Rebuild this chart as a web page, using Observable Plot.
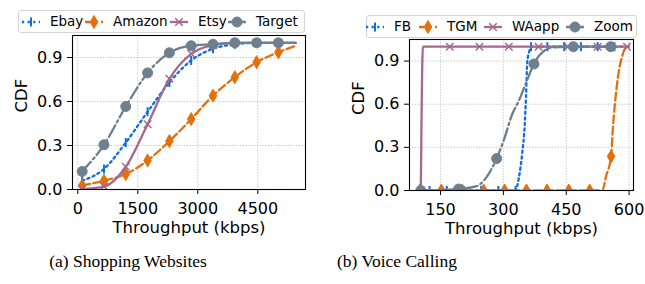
<!DOCTYPE html>
<html><head><meta charset="utf-8">
<script src="https://cdn.jsdelivr.net/npm/d3@7"></script>
<script src="https://cdn.jsdelivr.net/npm/@observablehq/plot@0.6"></script>
<style>
html,body{margin:0;padding:0;background:#fff;}
#root{position:relative;width:645px;height:284px;overflow:hidden;font-family:"DejaVu Sans",sans-serif;}
.panel{position:absolute;top:0;}
.legend{position:absolute;height:23px;border:1px solid #d4d4d4;border-radius:3px;background:#fff;box-sizing:border-box;}
.lh{position:absolute;top:1px;width:20px;height:20px;}
.lt{position:absolute;top:0;line-height:21px;font-size:13.5px;color:#000;white-space:nowrap;}
.caption{position:absolute;top:251px;width:260px;text-align:center;font-family:"Liberation Serif","Times New Roman",serif;font-size:17.5px;color:#000;}
</style></head>
<body><div id="root"></div>
<script>
// ---------- data ----------
const cdfTicks = [0, 0.3, 0.6, 0.9];
const shopTicks = [0, 1500, 3000, 4500];
const voiceTicks = [150, 300, 450, 600];

// (a) Shopping websites — throughput (kbps) grid shared by all series
const shopX      = [110, 655, 1200, 1745, 2290, 2835, 3380, 3925, 4470, 5015, 5450];
const ebayCDF    = [0.06, 0.14, 0.32, 0.53, 0.73, 0.88, 0.96, 0.99, 1.0, 1.0, 1.0];
const amazonCDF  = [0.027, 0.06, 0.105, 0.198, 0.33, 0.48, 0.64, 0.766, 0.868, 0.936, 0.98];
const etsyCDF    = [0.003, 0.02, 0.155, 0.445, 0.755, 0.925, 0.985, 1.0, 1.0, 1.0, 1.0];
const targetCDF  = [0.123, 0.305, 0.566, 0.795, 0.932, 0.98, 0.99, 1.0, 1.0, 1.0, 1.0];

// (b) Voice calling
const fbX     = [100, 124, 165, 206, 247, 288, 329, 337, 345, 351, 354, 357, 362, 366, 405, 445, 485, 525, 565, 600];
const fbCDF   = [0, 0, 0, 0, 0, 0, 0, 0.09, 0.26, 0.46, 0.65, 0.89, 0.97, 1, 1, 1, 1, 1, 1, 1];
const fbMarkX = [124, 165, 206, 247, 288, 329, 366, 405, 445, 485, 525, 565];

const tgmX     = [101, 152, 202, 253, 303, 355, 404, 456, 506, 536, 545, 557, 561, 566, 574, 584, 592, 600];
const tgmCDF   = [0, 0, 0, 0, 0, 0, 0, 0, 0, 0, 0.1, 0.237, 0.42, 0.6, 0.8, 0.94, 0.99, 1.0];
const tgmMarkX = [101, 152, 202, 253, 303, 355, 404, 456, 506, 557];

const waX     = [103, 108, 172, 243, 313, 384, 454, 525, 595, 599];
const waCDF   = [0, 1, 1, 1, 1, 1, 1, 1, 1, 1];
const waMarkX = [103, 172, 243, 313, 384, 454, 525, 595];

const zoomX     = [103, 193, 236, 268, 284, 301, 321, 337, 353, 373, 386, 418, 467, 556];
const zoomCDF   = [0, 0.01, 0.03, 0.13, 0.222, 0.35, 0.53, 0.625, 0.74, 0.88, 0.94, 0.995, 1, 1];
const zoomMarkX = [103, 193, 284, 373, 467, 556];

// ---------- styles ----------
const C = {blue: "#0d6fdc", orange: "#e5700b", mauve: "#a5688f", gray: "#6e7f8e"};
const symR = (size) => Math.sqrt(size / Math.PI);
const vbar = {draw(ctx, size) { const r = symR(size); ctx.moveTo(0, -r); ctx.lineTo(0, r); }};
const thinDiamond = {draw(ctx, size) { const r = symR(size); ctx.moveTo(0, -r); ctx.lineTo(r * 0.58, 0); ctx.lineTo(0, r); ctx.lineTo(-r * 0.58, 0); ctx.closePath(); }};
const xmark = {draw(ctx, size) { const r = symR(size) * 0.75; ctx.moveTo(-r, -r); ctx.lineTo(r, r); ctx.moveTo(r, -r); ctx.lineTo(-r, r); }};
const circ = {draw(ctx, size) { const r = symR(size); ctx.moveTo(r, 0); ctx.arc(0, 0, r, 0, 2 * Math.PI); }};

const STY = {
  ebay:   {color: C.blue,   dash: "2.2,3.4", symbol: vbar, r: 4.5, fill: "none", sw: 2},
  amazon: {color: C.orange, dash: "8,3.4", symbol: thinDiamond, r: 6.5, fill: C.orange, sw: 1},
  etsy:   {color: C.mauve,  dash: null, symbol: xmark, r: 5, fill: "none", sw: 1.5},
  target: {color: C.gray,   dash: "13,3.4,2.2,3.4", symbol: circ, r: 5, fill: C.gray, sw: 1},
};

const rowsOf = (xs, ys) => xs.map((x, i) => ({x, y: ys[i]}));

function panel({width, marginLeft, marginRight, marginTop, frameBottom, xDomain, xTicks, series, labelDx}) {
  const H = 240;
  const grid = {stroke: "#b4b4b4", strokeOpacity: 1, strokeWidth: 0.8, strokeDasharray: "1.2,1.6"};
  const marks = [Plot.gridX(xTicks, grid), Plot.gridY(cdfTicks, grid)];
  for (const s of series) {
    const st = STY[s.style];
    marks.push(Plot.line(s.line, {x: "x", y: "y", stroke: st.color, strokeWidth: 2.3,
      strokeDasharray: st.dash || undefined, curve: "monotone-x", clip: true}));
    marks.push(Plot.dot(s.marks, {x: "x", y: "y", symbol: st.symbol, r: st.r,
      fill: st.fill, stroke: st.color, strokeWidth: st.sw, clip: true}));
  }
  marks.push(
    Plot.frame({stroke: "#000", strokeWidth: 1.1}),
    Plot.axisX(xTicks, {tickSize: 5, tickPadding: 8, fontSize: 16, label: null, tickFormat: d3.format("d")}),
    Plot.axisY(cdfTicks, {tickSize: 5, tickPadding: 5, fontSize: 16, label: null, tickFormat: d => d.toFixed(1)}),
    Plot.text(["Throughput (kbps)"], {text: d => d, frameAnchor: "bottom", lineAnchor: "middle", dy: 38, fontSize: 16.5}),
    Plot.text(["CDF"], {text: d => d, frameAnchor: "left", lineAnchor: "middle", dx: labelDx, rotate: -90, fontSize: 16.5})
  );
  return Plot.plot({
    width, height: H, marginLeft, marginRight, marginTop, marginBottom: H - frameBottom,
    x: {domain: xDomain}, y: {domain: [0, 1.05]},
    style: {fontFamily: "DejaVu Sans, sans-serif", color: "#000", background: "transparent", overflow: "visible"},
    marks
  });
}

const root = document.getElementById("root");

const lastDropped = (ys) => rowsOf(shopX, ys).slice(0, -1);
const leftChart = panel({
  width: 320, marginLeft: 72, marginRight: 15, marginTop: 35, frameBottom: 189,
  xDomain: [-132, 5692], xTicks: shopTicks, labelDx: -51,
  series: [
    {style: "ebay",   line: rowsOf(shopX, ebayCDF),   marks: lastDropped(ebayCDF)},
    {style: "amazon", line: rowsOf(shopX, amazonCDF), marks: lastDropped(amazonCDF)},
    {style: "etsy",   line: rowsOf(shopX, etsyCDF),   marks: lastDropped(etsyCDF)},
    {style: "target", line: rowsOf(shopX, targetCDF), marks: lastDropped(targetCDF)},
  ]
});
leftChart.classList.add("panel"); leftChart.style.left = "0px";
root.appendChild(leftChart);

const pick = (xs, ys, mx) => rowsOf(xs, ys).filter(d => mx.includes(d.x));
const rightChart = panel({
  width: 325, marginLeft: 89, marginRight: 12, marginTop: 39, frameBottom: 190,
  xDomain: [76, 610.5], xTicks: voiceTicks, labelDx: -51,
  series: [
    {style: "ebay",   line: rowsOf(fbX, fbCDF),     marks: pick(fbX, fbCDF, fbMarkX)},
    {style: "amazon", line: rowsOf(tgmX, tgmCDF),   marks: pick(tgmX, tgmCDF, tgmMarkX)},
    {style: "etsy",   line: rowsOf(waX, waCDF),     marks: pick(waX, waCDF, waMarkX)},
    {style: "target", line: rowsOf(zoomX, zoomCDF), marks: pick(zoomX, zoomCDF, zoomMarkX)},
  ]
});
rightChart.classList.add("panel"); rightChart.style.left = "320px";
root.appendChild(rightChart);

// ---------- legends ----------
function legend(left, top, width, items) {
  const box = document.createElement("div");
  box.className = "legend";
  box.style.left = left + "px"; box.style.top = top + "px"; box.style.width = width + "px";
  for (const it of items) {
    const st = STY[it.style];
    const svg = d3.create("svg").attr("class", "lh").attr("width", 20).attr("height", 20)
      .style("left", (it.tx - 29) + "px").style("overflow", "visible");
    svg.append("line").attr("x1", 1).attr("x2", 19).attr("y1", 10).attr("y2", 10)
      .attr("stroke", st.color).attr("stroke-width", 2.3)
      .attr("stroke-dasharray", it.style === "ebay" ? "2.2,3.4" : it.style === "amazon" ? "5,3" : it.style === "target" ? "6,2.5,2.2,2.5" : null);
    svg.append("path").attr("transform", "translate(10,10)")
      .attr("d", d3.symbol(st.symbol, Math.PI * st.r * st.r)())
      .attr("fill", st.fill).attr("stroke", st.color).attr("stroke-width", st.sw);
    box.appendChild(svg.node());
    const t = document.createElement("span");
    t.className = "lt"; t.textContent = it.label; t.style.left = it.tx + "px";
    box.appendChild(t);
  }
  root.appendChild(box);
}
legend(18, 10, 287, [
  {label: "Ebay", style: "ebay", tx: 31},
  {label: "Amazon", style: "amazon", tx: 94},
  {label: "Etsy", style: "etsy", tx: 179},
  {label: "Target", style: "target", tx: 237},
]);
legend(366, 15, 271, [
  {label: "FB", style: "ebay", tx: 27},
  {label: "TGM", style: "amazon", tx: 80},
  {label: "WAapp", style: "etsy", tx: 145},
  {label: "Zoom", style: "target", tx: 227},
]);

// ---------- captions ----------
function caption(text, center) {
  const d = document.createElement("div");
  d.className = "caption"; d.textContent = text; d.style.left = (center - 130) + "px";
  root.appendChild(d);
}
caption("(a) Shopping Websites", 128);
caption("(b) Voice Calling", 397);
</script></body></html>
